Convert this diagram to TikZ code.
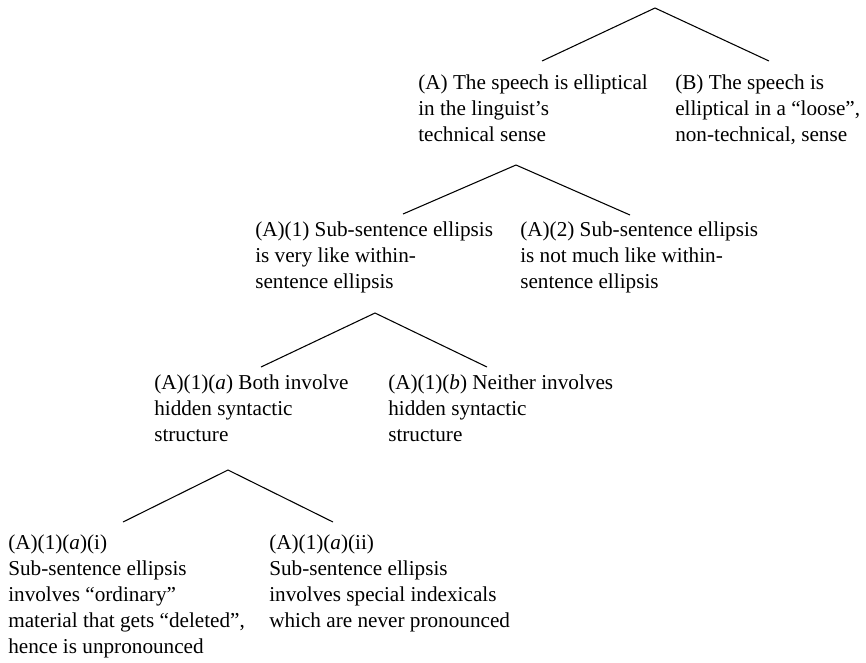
\documentclass[tikz,border=0pt]{standalone}
\usepackage{fontspec}
\setmainfont{Liberation Serif}
\tikzset{
  txt/.style={anchor=north west, inner sep=0pt, align=left,
    font=\fontsize{15.9}{19.5}\selectfont, execute at begin node=\strut},
  branch/.style={line width=0.8pt}
}
\begin{document}
\begin{tikzpicture}[x=0.75pt,y=-0.75pt]
\useasboundingbox (0,0) rectangle (866,662);
\node[txt] (A) at (418,74.8) {(A) The speech is elliptical\\in the linguist’s\\technical sense};
\node[txt] (B) at (675,74.8) {(B) The speech is\\elliptical in a “loose”,\\non-technical, sense};
\node[txt] (A1) at (255,221.8) {(A)(1) Sub-sentence ellipsis\\is very like within-\\sentence ellipsis};
\node[txt] (A2) at (520,221.8) {(A)(2) Sub-sentence ellipsis\\is not much like within-\\sentence ellipsis};
\node[txt] (A1a) at (154,374.8) {(A)(1)(\textit{a}) Both involve\\hidden syntactic\\structure};
\node[txt] (A1b) at (388,374.8) {(A)(1)(\textit{b}) Neither involves\\hidden syntactic\\structure};
\node[txt] (A1ai) at (8,534.8) {(A)(1)(\textit{a})(i)\\Sub-sentence ellipsis\\involves “ordinary”\\material that gets “deleted”,\\hence is unpronounced};
\node[txt] (A1aii) at (269,534.8) {(A)(1)(\textit{a})(ii)\\Sub-sentence ellipsis\\involves special indexicals\\which are never pronounced};
\coordinate (root) at (655,8);
\coordinate (root-A) at (542,61);
\coordinate (root-B) at (769,61);
\coordinate (A-fork) at (516,165);
\coordinate (A-A1) at (403,214);
\coordinate (A-A2) at (630,215);
\coordinate (A1-fork) at (375,313);
\coordinate (A1-A1a) at (261,367);
\coordinate (A1-A1b) at (487,367);
\coordinate (A1a-fork) at (228,470);
\coordinate (A1a-A1ai) at (123,522);
\coordinate (A1a-A1aii) at (333,522);
\draw[branch] (root-A) -- (root) -- (root-B)
  (A-A1) -- (A-fork) -- (A-A2)
  (A1-A1a) -- (A1-fork) -- (A1-A1b)
  (A1a-A1ai) -- (A1a-fork) -- (A1a-A1aii);
\end{tikzpicture}
\end{document}
